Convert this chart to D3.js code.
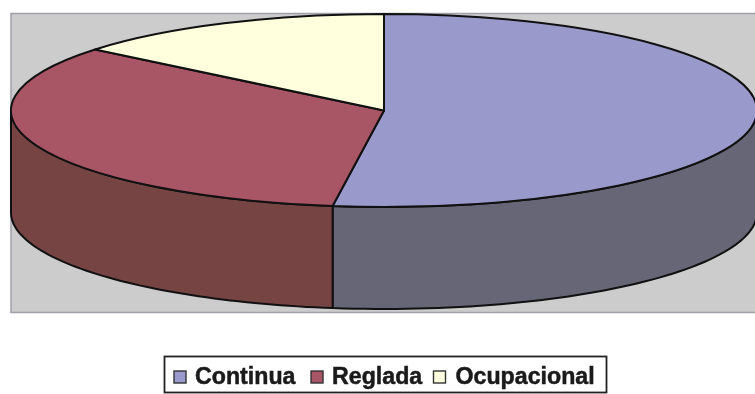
<!DOCTYPE html>
<html>
<head>
<meta charset="utf-8">
<script src="https://cdn.jsdelivr.net/npm/d3@7"></script>
<style>
html, body { margin: 0; padding: 0; background: #fff; overflow: hidden; }
svg { display: block; filter: blur(0.4px); }
</style>
</head>
<body>
<script>
var width = 755;
var height = 394;

var categories = ["Continua", "Reglada", "Ocupacional"];
var values = [52.2, 33.7, 14.1];
var topColors = ["#9999cc", "#a85566", "#ffffdd"];
var sideColors = ["#666677", "#774444", "#808070"];

var cx = 384, cy = 110.5, rx = 373, ry = 96.5, depth = 102;

var svg = d3.select("body").append("svg").attr("width", width).attr("height", height);

// plot background
svg.append("rect")
    .attr("x", 11).attr("y", 13.5)
    .attr("width", 760).attr("height", 299)
    .attr("fill", "#cccccc")
    .attr("stroke", "#a0a0a8")
    .attr("stroke-width", 1.5);

var pie = d3.pie().sort(null).value(function (d) { return d; });
var slices = pie(values);

var arc = d3.arc().innerRadius(0).outerRadius(rx);

// rim of the disc, only the front half shows
var side = d3.area()
    .x(function (a) { return cx + rx * Math.sin(a); })
    .y0(function (a) { return cy - ry * Math.cos(a); })
    .y1(function (a) { return cy - ry * Math.cos(a) + depth; });

slices.forEach(function (s, i) {
    var a0 = Math.max(s.startAngle, Math.PI / 2);
    var a1 = Math.min(s.endAngle, Math.PI * 3 / 2);
    if (a1 <= a0) return;
    var steps = d3.range(0, 61).map(function (k) { return a0 + (a1 - a0) * k / 60; });
    svg.append("path")
        .attr("d", side(steps))
        .attr("fill", sideColors[i])
        .attr("stroke", "#111")
        .attr("stroke-width", 2)
        .attr("stroke-linejoin", "round");
});

// top face, circle squashed into an ellipse
svg.append("g")
    .attr("transform", "translate(" + cx + "," + cy + ") scale(1," + (ry / rx) + ")")
    .selectAll("path")
    .data(slices)
    .enter()
    .append("path")
    .attr("d", arc)
    .attr("fill", function (d, i) { return topColors[i]; })
    .attr("stroke", "#111")
    .attr("stroke-width", 2)
    .attr("stroke-linejoin", "round")
    .attr("vector-effect", "non-scaling-stroke");

// legend
var legend = svg.append("g");
legend.append("rect")
    .attr("x", 164.5).attr("y", 356.5)
    .attr("width", 442).attr("height", 36)
    .attr("fill", "#fff")
    .attr("stroke", "#222")
    .attr("stroke-width", 1.8);

var legendSwatchX = [174, 311, 433.5];
var legendTextX = [195, 332, 455.5];

var items = legend.selectAll("g")
    .data(categories)
    .enter()
    .append("g");

items.append("rect")
    .attr("x", function (d, i) { return legendSwatchX[i]; })
    .attr("y", 371)
    .attr("width", 12).attr("height", 12)
    .attr("fill", function (d, i) { return topColors[i]; })
    .attr("stroke", "#333")
    .attr("stroke-width", 1.4);

items.append("text")
    .attr("x", function (d, i) { return legendTextX[i]; })
    .attr("y", 384)
    .attr("font-family", "Liberation Sans, Arial, sans-serif")
    .attr("font-weight", "bold")
    .attr("font-size", 23.2)
    .attr("fill", "#1a1a1a")
    .attr("stroke", "#1a1a1a")
    .attr("stroke-width", 0.5)
    .text(function (d) { return d; });
</script>
</body>
</html>
